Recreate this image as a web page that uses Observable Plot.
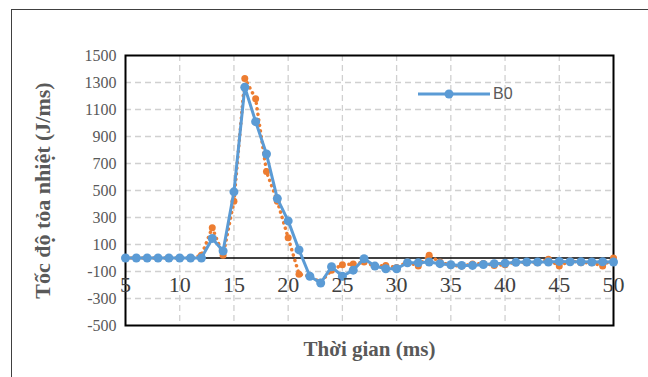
<!DOCTYPE html>
<html>
<head>
<meta charset="utf-8">
<script src="https://cdn.jsdelivr.net/npm/d3@7"></script>
<script src="https://cdn.jsdelivr.net/npm/@observablehq/plot@0.6"></script>
<style>
  body { margin: 0; background: #fff; width: 648px; height: 377px; overflow: hidden; position: relative; }
  #border { position: absolute; left: 11px; top: 9px; width: 700px; height: 400px; border: 1px solid #404040; box-sizing: border-box; }
  #chart { position: absolute; left: 0; top: 0; }
  #legend { position: absolute; left: 418px; top: 84px; font-family: "Liberation Sans", Arial, sans-serif; font-size: 16px; color: #595959; display: flex; align-items: center; }
</style>
</head>
<body>
<div id="border"></div>
<div id="chart"></div>
<div id="legend">
  <svg width="72" height="20"><line x1="0" y1="10" x2="72" y2="10" stroke="#5B9BD5" stroke-width="3"/><circle cx="31" cy="10" r="4.5" fill="#5B9BD5"/></svg>
  <span style="margin-left:3px">B0</span>
</div>
<script>
const time = d3.range(5, 51);
const b0 = [0,0,0,0,0,0,0,0, 145,52,490,1265,1010,770,440,275,60,-135,-185,-65,-135,-90,-5,-60,-80,-80,-35,-35,-30,-42,-50,-55,-55,-48,-42,-38,-32,-30,-30,-30,-25,-28,-28,-30,-28,-30];
const other = [0,0,0,0,0,0,0,20, 225,20,420,1330,1180,640,420,150,-120,-135,-180,-90,-50,-45,-30,-60,-55,-70,-30,-60,20,-30,-55,-60,-45,-40,-55,-50,-30,-35,-35,-10,-60,-20,-35,-35,-60,0];
const yTicks = d3.range(-500, 1501, 200);
const xTicks = d3.range(5, 51, 5);

const data = time.map((t, i) => ({t, b0: b0[i], other: other[i]}));

const serif = "'Liberation Serif', 'Times New Roman', serif";

const chart = Plot.plot({
  width: 648,
  height: 377,
  marginLeft: 125,
  marginRight: 35,
  marginTop: 55,
  marginBottom: 52,
  style: {fontFamily: serif, background: "transparent"},
  x: {domain: [5, 50]},
  y: {domain: [-500, 1500]},
  marks: [
    Plot.gridX(xTicks.slice(1, -1), {stroke: "#d0d0d0", strokeOpacity: 1, strokeDasharray: "6,4", strokeWidth: 1.3}),
    Plot.gridY(yTicks.slice(1, -1), {stroke: "#d0d0d0", strokeOpacity: 1, strokeDasharray: "6,4", strokeWidth: 1.3}),
    Plot.axisY(yTicks, {tickSize: 0, tickPadding: 9, fontSize: 16, fill: "#595959", label: null, tickFormat: d => String(d)}),
    Plot.axisX([], {label: null, tickSize: 0}),
    Plot.ruleY([0], {stroke: "black", strokeWidth: 1.5}),
    Plot.frame({stroke: "black", strokeWidth: 2}),
    Plot.line(data, {x: "t", y: "other", stroke: "#ED7D31", strokeWidth: 3.5, strokeDasharray: "0.1,5.5", strokeLinecap: "round"}),
    Plot.dot(data, {x: "t", y: "other", fill: "#ED7D31", r: 3.5}),
    Plot.line(data, {x: "t", y: "b0", stroke: "#5B9BD5", strokeWidth: 3}),
    Plot.dot(data, {x: "t", y: "b0", fill: "#5B9BD5", r: 4.5}),
    Plot.text(xTicks, {x: d => d, y: 0, dy: 27, text: d => String(d), fontSize: 22, fill: "#404040"}),
    Plot.text(["Tốc độ tỏa nhiệt (J/ms)"], {frameAnchor: "left", textAnchor: "middle", dx: -83, rotate: -90, fontSize: 22, fontWeight: "bold", fill: "#595959"}),
    Plot.text(["Thời gian (ms)"], {frameAnchor: "bottom", textAnchor: "middle", dy: 30, fontSize: 21, fontWeight: "bold", fill: "#595959"})
  ]
});
document.getElementById("chart").appendChild(chart);
</script>
</body>
</html>
